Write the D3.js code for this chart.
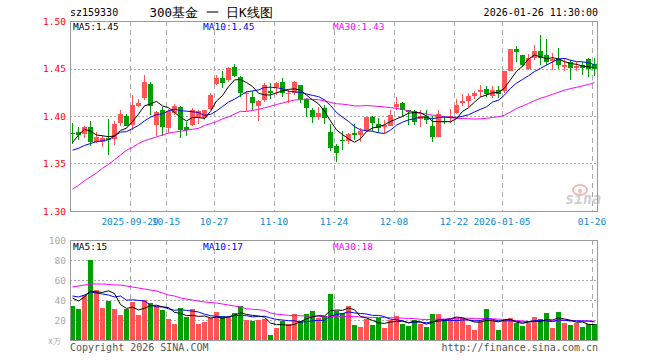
<!DOCTYPE html>
<html><head><meta charset="utf-8">
<script src="https://cdn.jsdelivr.net/npm/d3@7"></script>
<style>
html,body{margin:0;padding:0;background:#fff;}
svg{display:block;}
text{font-family:"DejaVu Sans Mono","Liberation Mono",monospace;}
</style></head>
<body>
<svg id="c" width="660" height="360"></svg>
<script>
// ---- data ----
const dates = [
"2025-09-15","2025-09-16","2025-09-17","2025-09-18","2025-09-19","2025-09-22","2025-09-23","2025-09-24","2025-09-25","2025-09-26",
"2025-09-29","2025-09-30","2025-10-09","2025-10-10","2025-10-13","2025-10-14","2025-10-15","2025-10-16","2025-10-17","2025-10-20",
"2025-10-21","2025-10-22","2025-10-23","2025-10-24","2025-10-27","2025-10-28","2025-10-29","2025-10-30","2025-10-31","2025-11-03",
"2025-11-04","2025-11-05","2025-11-06","2025-11-07","2025-11-10","2025-11-11","2025-11-12","2025-11-13","2025-11-14","2025-11-17",
"2025-11-18","2025-11-19","2025-11-20","2025-11-21","2025-11-24","2025-11-25","2025-11-26","2025-11-27","2025-11-28","2025-12-01",
"2025-12-02","2025-12-03","2025-12-04","2025-12-05","2025-12-08","2025-12-09","2025-12-10","2025-12-11","2025-12-12","2025-12-15",
"2025-12-16","2025-12-17","2025-12-18","2025-12-19","2025-12-22","2025-12-23","2025-12-24","2025-12-25","2025-12-26","2025-12-29",
"2025-12-30","2025-12-31","2026-01-05","2026-01-06","2026-01-07","2026-01-08","2026-01-09","2026-01-12","2026-01-13","2026-01-14",
"2026-01-15","2026-01-16","2026-01-19","2026-01-20","2026-01-21","2026-01-22","2026-01-23","2026-01-26"];

const open = [1.382,1.383,1.381,1.388,1.373,1.373,1.377,1.376,1.393,1.400,
1.391,1.411,1.419,1.434,1.391,1.406,1.387,1.403,1.410,1.388,
1.391,1.399,1.398,1.407,1.434,1.440,1.438,1.452,1.441,1.423,
1.420,1.411,1.417,1.426,1.431,1.436,1.423,1.424,1.433,1.418,
1.406,1.399,1.408,1.383,1.368,1.375,1.374,1.382,1.380,1.385,
1.399,1.392,1.388,1.390,1.409,1.414,1.406,1.405,1.397,1.400,
1.389,1.378,1.395,1.398,1.403,1.414,1.416,1.421,1.425,1.428,
1.421,1.427,1.426,1.447,1.471,1.464,1.450,1.461,1.468,1.464,
1.458,1.460,1.452,1.457,1.451,1.454,1.460,1.455];
const close = [1.381,1.380,1.388,1.373,1.378,1.377,1.375,1.392,1.402,1.390,
1.412,1.414,1.436,1.411,1.404,1.388,1.405,1.411,1.385,1.385,
1.406,1.405,1.406,1.422,1.440,1.435,1.451,1.442,1.424,1.424,
1.414,1.416,1.433,1.424,1.435,1.424,1.424,1.436,1.418,1.408,
1.399,1.403,1.398,1.366,1.361,1.374,1.381,1.380,1.384,1.399,
1.393,1.387,1.391,1.401,1.413,1.406,1.404,1.394,1.400,1.396,
1.378,1.402,1.394,1.400,1.412,1.416,1.421,1.424,1.427,1.423,
1.427,1.423,1.447,1.471,1.467,1.454,1.461,1.468,1.461,1.457,
1.460,1.454,1.454,1.451,1.453,1.451,1.450,1.450];
const high = [1.393,1.388,1.389,1.395,1.383,1.379,1.397,1.395,1.406,1.402,
1.422,1.418,1.443,1.436,1.405,1.409,1.407,1.413,1.411,1.394,
1.408,1.406,1.406,1.424,1.443,1.447,1.452,1.455,1.442,1.426,
1.426,1.417,1.435,1.435,1.436,1.440,1.427,1.437,1.433,1.419,
1.408,1.410,1.412,1.392,1.370,1.384,1.382,1.392,1.387,1.399,
1.400,1.398,1.396,1.406,1.420,1.415,1.406,1.406,1.406,1.406,
1.400,1.406,1.400,1.407,1.418,1.423,1.424,1.426,1.433,1.432,
1.432,1.432,1.447,1.471,1.474,1.464,1.465,1.475,1.485,1.481,
1.466,1.472,1.461,1.459,1.457,1.457,1.461,1.461];
const low = [1.370,1.375,1.377,1.368,1.372,1.367,1.359,1.369,1.389,1.389,
1.385,1.410,1.417,1.401,1.379,1.379,1.382,1.401,1.377,1.379,
1.389,1.392,1.396,1.406,1.433,1.430,1.436,1.441,1.420,1.405,
1.406,1.395,1.415,1.418,1.422,1.420,1.414,1.422,1.414,1.399,
1.393,1.396,1.392,1.363,1.352,1.364,1.370,1.375,1.373,1.384,
1.384,1.382,1.382,1.389,1.406,1.399,1.391,1.391,1.388,1.392,
1.373,1.378,1.392,1.393,1.402,1.411,1.410,1.418,1.420,1.420,
1.419,1.419,1.424,1.447,1.457,1.452,1.448,1.459,1.454,1.454,
1.448,1.450,1.447,1.438,1.447,1.443,1.441,1.442];
const volume = [34,31,45,80,50,32,39,31,25,31,
38,25,40,37,34,30,21,16,32,23,
31,16,18,22,28,24,23,27,34,20,
19,20,21,5,12,19,16,26,19,26,
29,22,24,46,29,27,34,15,13,21,
15,22,12,20,24,16,14,20,16,13,
26,26,20,21,22,22,15,10,20,31,
20,10,20,22,17,14,17,23,21,27,
12,28,17,15,17,13,16,16];

// moving-average values at the start of the window (they depend on earlier history)
const priceMA5Head  = [1.372,1.380,1.386,1.384];
const priceMA10Head = [1.364,1.366,1.369,1.371,1.373,1.374,1.375,1.379,1.383];
const priceMA30Head = [1.323,1.327,1.332,1.336,1.340,1.345,1.349,1.354,1.359,1.364,
1.367,1.371,1.374,1.376,1.378,1.380,1.382,1.383,1.384,1.385,
1.386,1.387,1.390,1.392,1.394,1.397,1.399,1.402,1.405];
const volMA5Head  = [42,39,43,49];
const volMA10Head = [44,43,45,48,47,46,45,43,44];
const volMA30Head = [53,54,55,56,56,56,55.5,55,55,54,53,52,51,50,49,47,45,44,42,41,40,39,38,37.5,37,36,35,34,33];

const priceTicks = [1.50,1.45,1.40,1.35,1.30];
const volTicks = [100,80,60,40,20];
const dateTicks = ["2025-09-29","2025-10-15","2025-10-27","2025-11-10","2025-11-24","2025-12-08","2025-12-22","2026-01-05","2026-01-26"];
const dateTickLabels = ["2025-09-29","10-15","10-27","11-10","11-24","12-08","12-22","2026-01-05","01-26"];
const priceLegend = ["MA5:1.45","MA10:1.45","MA30:1.43"];
const volLegend = ["MA5:15","MA10:17","MA30:18"];
const maColors = ["#000000","#0000ff","#ff00ff"];

// ---- drawing ----
const svg = d3.select("#c");
const L = 70, R = 598;
const PT = 21, PB = 211, VT = 240, VB = 340;
const UP = "#ff5555", DN = "#00a000";

const x = d3.scaleBand().domain(dates).range([L, R]).paddingInner(0).paddingOuter(0);
const y = d3.scaleLinear().domain([1.30, 1.50]).range([PB, PT]);
const yv = d3.scaleLinear().domain([0, 100]).range([VB, VT]);

function ma(arr, n, head) {
  return arr.map((v, i) => i < head.length ? head[i] : d3.mean(arr.slice(i - n + 1, i + 1)));
}

// header
svg.append("text").attr("x", 70).attr("y", 16).attr("font-size", 10).attr("fill", "#000").text("sz159330");
svg.append("text").attr("x", 211).attr("y", 17).attr("text-anchor", "middle").attr("font-size", 12.5)
  .attr("font-family", "'DejaVu Sans Mono','Noto Sans CJK SC',monospace").attr("fill", "#000").text("300基金 一 日K线图");
svg.append("text").attr("x", 598).attr("y", 16).attr("text-anchor", "end").attr("font-size", 10).attr("fill", "#000").text("2026-01-26 11:30:00");

// gridlines
const g = svg.append("g").attr("shape-rendering", "crispEdges");
priceTicks.slice(1, 4).forEach(t => {
  g.append("line").attr("x1", L).attr("x2", R).attr("y1", Math.round(y(t)) + 0.5).attr("y2", Math.round(y(t)) + 0.5)
    .attr("stroke", "#aaa").attr("stroke-dasharray", "2,2");
});
volTicks.slice(1).forEach(t => {
  g.append("line").attr("x1", L).attr("x2", R).attr("y1", yv(t) + 0.5).attr("y2", yv(t) + 0.5)
    .attr("stroke", "#aaa").attr("stroke-dasharray", "2,2");
});
dateTicks.forEach(d => {
  const xx = x(d) + 0.5;
  g.append("line").attr("x1", xx).attr("x2", xx).attr("y1", PT).attr("y2", PB).attr("stroke", "#aaa").attr("stroke-dasharray", "5,4");
  g.append("line").attr("x1", xx).attr("x2", xx).attr("y1", VT).attr("y2", VB).attr("stroke", "#aaa").attr("stroke-dasharray", "5,4");
});

// watermark
const wm = svg.append("g");
wm.append("ellipse").attr("cx", 580).attr("cy", 190).attr("rx", 7).attr("ry", 5).attr("fill", "none").attr("stroke", "#f3b8b8").attr("stroke-width", 2);
wm.append("circle").attr("cx", 580).attr("cy", 191).attr("r", 2).attr("fill", "#f3b8b8");
wm.append("text").attr("x", 565).attr("y", 204).attr("font-family", "'DejaVu Sans',sans-serif").attr("font-style", "italic")
  .attr("font-weight", "bold").attr("font-size", 15).attr("fill", "#cfcfcf").text("sina");

// price axis labels
svg.selectAll(".pl").data(priceTicks).enter().append("text")
  .attr("x", 66).attr("y", d => y(d) + 3.5).attr("text-anchor", "end").attr("font-size", 9.5).attr("fill", "#ff0000").text(d => d.toFixed(2));
svg.selectAll(".vl").data(volTicks).enter().append("text")
  .attr("x", 66).attr("y", d => yv(d) + 3.5).attr("text-anchor", "end").attr("font-size", 9.5).attr("fill", "#aaaaaa").text(d => d);
svg.append("text").attr("x", 48).attr("y", 344).attr("font-size", 8).attr("font-family", "'Noto Sans CJK SC',sans-serif").attr("fill", "#aaa").text("x万");

// date labels
svg.selectAll(".dl").data(dateTicks).enter().append("text")
  .attr("x", d => x(d)).attr("y", 225).attr("text-anchor", "middle").attr("font-size", 9.5).attr("fill", "#0a88d8")
  .text((d, i) => dateTickLabels[i]);

// candles
const cg = svg.append("g").attr("shape-rendering", "crispEdges");
dates.forEach((d, i) => {
  const col = close[i] >= open[i] ? UP : DN;
  const x0 = x(d);
  const yh = Math.round(y(high[i])), yl = Math.round(y(low[i]));
  cg.append("rect").attr("x", x0 + 2).attr("width", 1).attr("y", yh).attr("height", Math.max(1, yl - yh)).attr("fill", col);
  const yt = Math.round(y(Math.max(open[i], close[i]))), yb = Math.round(y(Math.min(open[i], close[i])));
  cg.append("rect").attr("x", x0).attr("width", x.bandwidth() - 1).attr("y", yt).attr("height", Math.max(1, yb - yt)).attr("fill", col);
  // volume bar
  const vt = Math.round(yv(volume[i]));
  cg.append("rect").attr("x", x0).attr("width", x.bandwidth() - 1).attr("y", vt).attr("height", VB - vt).attr("fill", col);
});

// MA lines
const pl = d3.line().x((v, i) => x(dates[i]) + 2.5).y(v => y(v));
const vl = d3.line().x((v, i) => x(dates[i]) + 2.5).y(v => yv(v));
const pMA = [ma(close, 5, priceMA5Head), ma(close, 10, priceMA10Head), ma(close, 30, priceMA30Head)];
const vMA = [ma(volume, 5, volMA5Head), ma(volume, 10, volMA10Head), ma(volume, 30, volMA30Head)];
[2, 1, 0].forEach(j => {
  svg.append("path").attr("d", pl(pMA[j])).attr("fill", "none").attr("stroke", maColors[j]).attr("stroke-width", 1);
  svg.append("path").attr("d", vl(vMA[j])).attr("fill", "none").attr("stroke", maColors[j]).attr("stroke-width", 1);
});

// borders
const bg = svg.append("g").attr("shape-rendering", "crispEdges").attr("fill", "none").attr("stroke", "#999");
bg.append("rect").attr("x", L + 0.5).attr("y", PT + 0.5).attr("width", R - L - 1).attr("height", PB - PT);
bg.append("rect").attr("x", L + 0.5).attr("y", VT + 0.5).attr("width", R - L - 1).attr("height", VB - VT);

// legends
const legX = [73, 203, 333];
priceLegend.forEach((t, j) => svg.append("text").attr("x", legX[j]).attr("y", 30).attr("font-size", 9.5).attr("fill", maColors[j]).text(t));
volLegend.forEach((t, j) => svg.append("text").attr("x", legX[j]).attr("y", 250).attr("font-size", 9.5).attr("fill", maColors[j]).text(t));

// footer
svg.append("text").attr("x", 70).attr("y", 351).attr("font-size", 10).attr("fill", "#555").text("Copyright 2026 SINA.COM");
svg.append("text").attr("x", 598).attr("y", 351).attr("text-anchor", "end").attr("font-size", 10).attr("fill", "#555").text("http://finance.sina.com.cn");
</script>
</body></html>
